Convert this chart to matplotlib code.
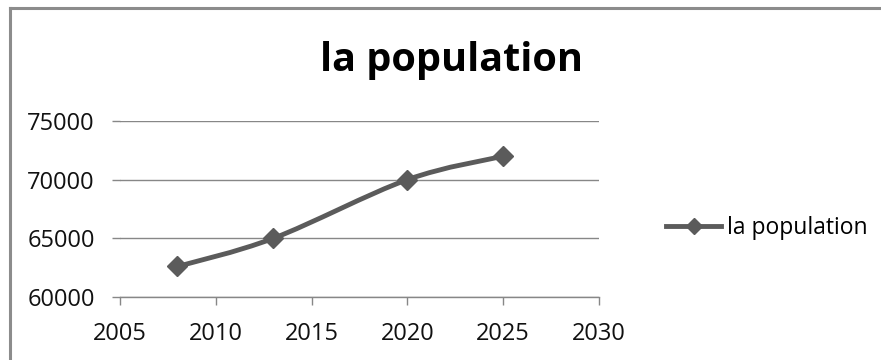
import matplotlib
matplotlib.use("Agg")
import matplotlib.pyplot as plt
from matplotlib.path import Path
from matplotlib.patches import PathPatch
from matplotlib.lines import Line2D

years = [2008, 2013, 2020, 2025]
population = [62600, 65000, 70000, 72000]
series_name = "la population"
x_ticks = [2005, 2010, 2015, 2020, 2025, 2030]
y_ticks = [60000, 65000, 70000, 75000]

line_color = "#5b5b5b"
grid_color = "#878787"

plt.rcParams["font.family"] = ["Open Sans", "DejaVu Sans"]


def smooth_path(xs, ys):
    # bezier segments with catmull-rom style control points (tension 1/6)
    pts = list(zip(xs, ys))
    n = len(pts)
    verts = [pts[0]]
    codes = [Path.MOVETO]
    for i in range(n - 1):
        p0 = pts[i - 1] if i > 0 else pts[i]
        p1 = pts[i]
        p2 = pts[i + 1]
        p3 = pts[i + 2] if i + 2 < n else pts[i + 1]
        c1 = (p1[0] + (p2[0] - p0[0]) / 6, p1[1] + (p2[1] - p0[1]) / 6)
        c2 = (p2[0] - (p3[0] - p1[0]) / 6, p2[1] - (p3[1] - p1[1]) / 6)
        verts += [c1, c2, p2]
        codes += [Path.CURVE4] * 3
    return Path(verts, codes)


fig = plt.figure(figsize=(8.81, 3.6), dpi=100)
ax = fig.add_axes([120 / 881, 1 - 297 / 360, 479 / 881, 176 / 360])

ax.add_patch(PathPatch(smooth_path(years, population), facecolor="none",
                       edgecolor=line_color, linewidth=3.5, capstyle="round", zorder=3))
ax.plot(years, population, linestyle="none", marker="D", markersize=10,
        color=line_color, zorder=4)

ax.set_xlim(2005, 2030)
ax.set_ylim(60000, 75000)
ax.set_xticks(x_ticks)
ax.set_yticks(y_ticks)
ax.set_xticklabels([str(t) for t in x_ticks])
ax.set_yticklabels([str(t) for t in y_ticks])
ax.yaxis.grid(True, color=grid_color, linewidth=1)
ax.set_axisbelow(True)

for side in ["top", "right", "left"]:
    ax.spines[side].set_visible(False)
ax.spines["bottom"].set_color(grid_color)
ax.spines["bottom"].set_linewidth(1)
ax.tick_params(axis="both", direction="out", length=6, width=1, color=grid_color,
               labelsize=17, labelcolor="#111111")
ax.tick_params(axis="y", pad=12)
ax.tick_params(axis="x", pad=12)

fig.text(452 / 881, 1 - 61 / 360, "la population", ha="center", va="center",
         fontsize=28.5, fontweight="bold", color="black")

handle = Line2D([], [], color=line_color, linewidth=3.5, marker="D", markersize=8)
fig.legend([handle], [series_name], loc="center left",
           bbox_to_anchor=(666 / 881, 1 - 228 / 360), frameon=False,
           fontsize=16.5, handlelength=2.4, handletextpad=0.26, borderpad=0,
           borderaxespad=0)

# chart area border (left and top edges)
fig.add_artist(Line2D([10 / 881, 10 / 881], [0, 1 - 8 / 360], color="#8c8c8c",
                      linewidth=2.2, transform=fig.transFigure))
fig.add_artist(Line2D([10 / 881, 1], [1 - 8 / 360, 1 - 8 / 360], color="#8c8c8c",
                      linewidth=2.2, transform=fig.transFigure))

fig.savefig("out.png", dpi=100)
